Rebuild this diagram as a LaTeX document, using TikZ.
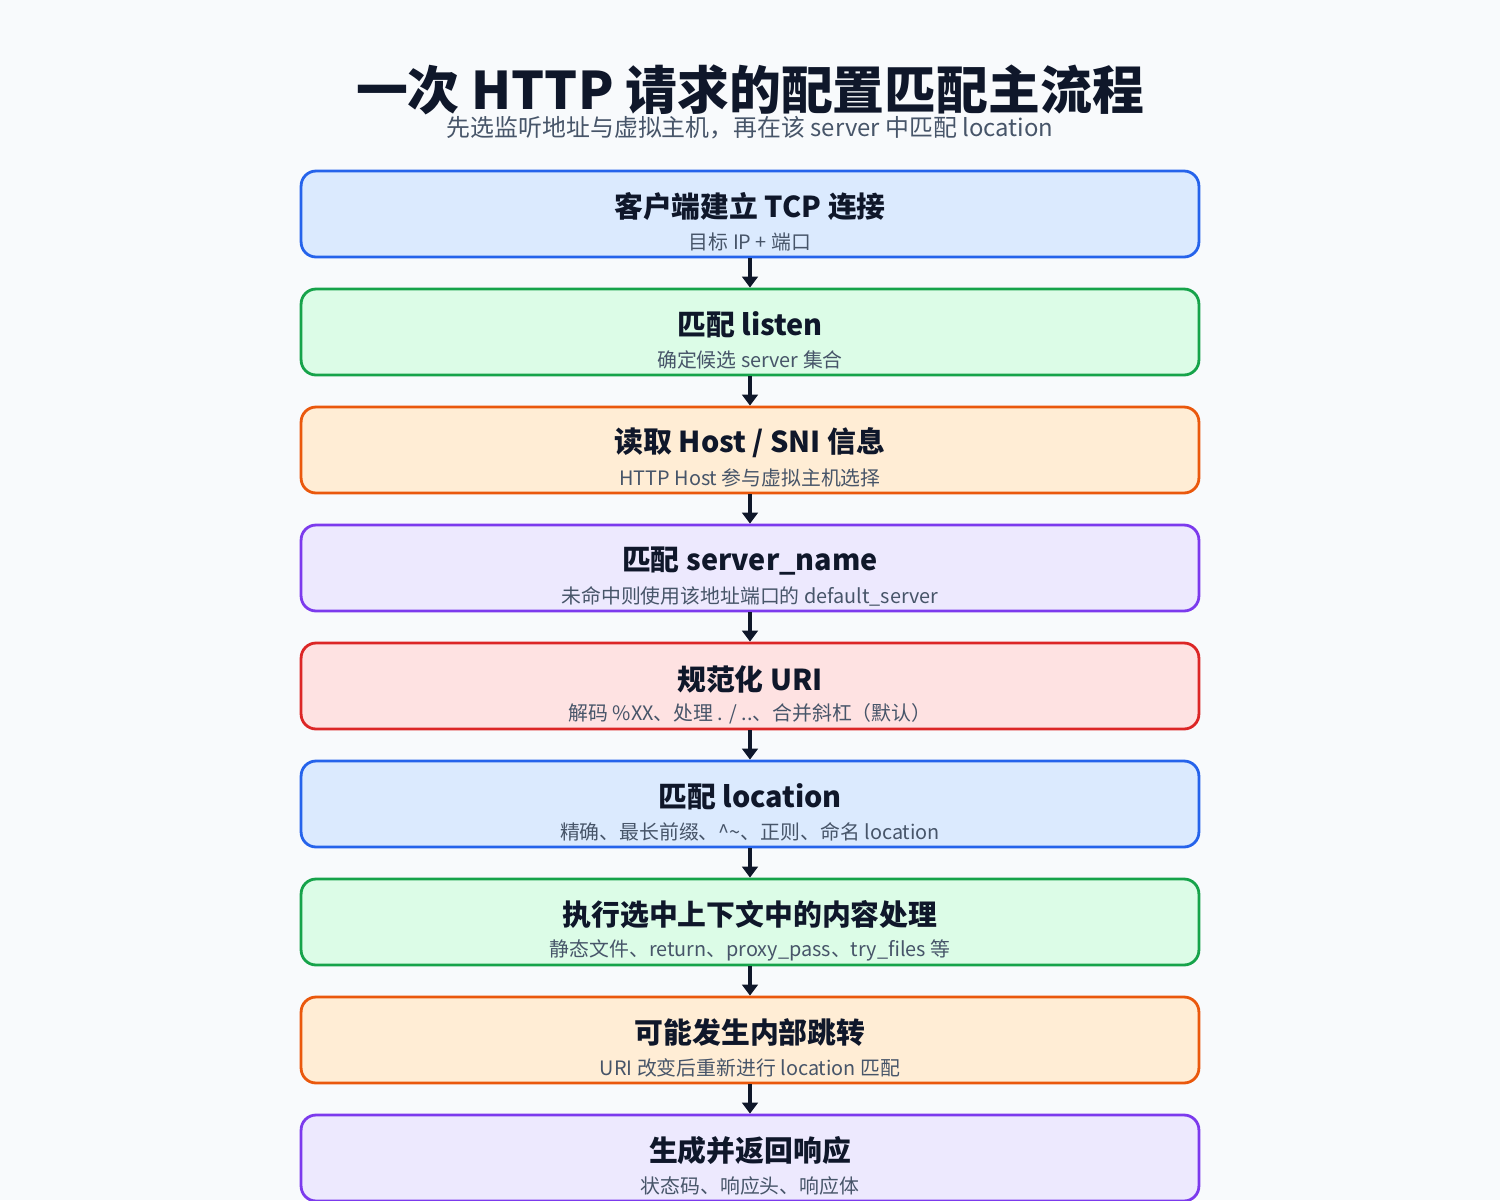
\documentclass[tikz,border=0pt]{standalone}
\usepackage{fontspec}
\setmainfont{Noto Sans CJK SC}
\usetikzlibrary{arrows.meta}
\definecolor{pagebg}{HTML}{F8FAFC}
\definecolor{ink}{HTML}{0F172A}
\definecolor{muted}{HTML}{475569}
\definecolor{blueline}{HTML}{2563EB}
\definecolor{bluefill}{HTML}{DBEAFE}
\definecolor{greenline}{HTML}{16A34A}
\definecolor{greenfill}{HTML}{DCFCE7}
\definecolor{orangeline}{HTML}{EA580C}
\definecolor{orangefill}{HTML}{FFEDD5}
\definecolor{purpleline}{HTML}{7C3AED}
\definecolor{purplefill}{HTML}{EDE9FE}
\definecolor{redline}{HTML}{DC2626}
\definecolor{redfill}{HTML}{FEE2E2}
\tikzset{
  stepbox/.style={draw=#1line, fill=#1fill, line width=1.6pt, rounded corners=8.5pt,
    minimum width=17.96cm, minimum height=1.72cm, inner sep=0pt},
  steptitle/.style={font=\bfseries\fontsize{16.4}{19}\selectfont, text=ink, inner sep=0pt},
  stepnote/.style={font=\fontsize{11.3}{13}\selectfont, text=muted, inner sep=0pt},
  flow/.style={-{Triangle[length=6.2pt,width=8.8pt]}, line width=1.8pt, draw=ink}
}

\begin{document}
\begin{tikzpicture}[x=0.02cm, y=-0.02cm]
\fill[pagebg] (0,0) rectangle (1500,1200);
\useasboundingbox (0,0) rectangle (1500,1200);
% heading
\node[font=\bfseries\fontsize{29.5}{34}\selectfont, text=ink, inner sep=0pt] (title) at (750,90) {一次 HTTP 请求的配置匹配主流程};
\node[font=\fontsize{13.6}{16}\selectfont, text=muted, inner sep=0pt] (subtitle) at (750,127.5) {先选监听地址与虚拟主机，再在该 server 中匹配 location};
% steps
\node[stepbox=blue] (s1) at (750,214) {};
\node[steptitle] (s1t) at (750,207) {客户端建立 TCP 连接};
\node[stepnote] (s1n) at (750,242) {目标 IP + 端口};
\node[stepbox=green] (s2) at (750,332) {};
\node[steptitle] (s2t) at (750,325) {匹配 listen};
\node[stepnote] (s2n) at (750,360) {确定候选 server 集合};
\node[stepbox=orange] (s3) at (750,450) {};
\node[steptitle] (s3t) at (750,443) {读取 Host / SNI 信息};
\node[stepnote] (s3n) at (750,478) {HTTP Host 参与虚拟主机选择};
\node[stepbox=purple] (s4) at (750,568) {};
\node[steptitle] (s4t) at (750,561) {匹配 server\_name};
\node[stepnote] (s4n) at (750,596) {未命中则使用该地址端口的 default\_server};
\node[stepbox=red] (s5) at (750,686) {};
\node[steptitle] (s5t) at (750,679) {规范化 URI};
\node[stepnote] (s5n) at (750,714) {解码 \%XX、处理 . / ..、合并斜杠（默认）};
\node[stepbox=blue] (s6) at (750,804) {};
\node[steptitle] (s6t) at (750,797) {匹配 location};
\node[stepnote] (s6n) at (750,832) {精确、最长前缀、\textasciicircum\textasciitilde、正则、命名 location};
\node[stepbox=green] (s7) at (750,922) {};
\node[steptitle] (s7t) at (750,915) {执行选中上下文中的内容处理};
\node[stepnote] (s7n) at (750,950) {静态文件、return、proxy\_pass、try\_files 等};
\node[stepbox=orange] (s8) at (750,1040) {};
\node[steptitle] (s8t) at (750,1033) {可能发生内部跳转};
\node[stepnote] (s8n) at (750,1068) {URI 改变后重新进行 location 匹配};
\node[stepbox=purple] (s9) at (750,1158) {};
\node[steptitle] (s9t) at (750,1151) {生成并返回响应};
\node[stepnote] (s9n) at (750,1186) {状态码、响应头、响应体};
% arrows
\draw[flow] (s1.south) -- (s2.north);
\draw[flow] (s2.south) -- (s3.north);
\draw[flow] (s3.south) -- (s4.north);
\draw[flow] (s4.south) -- (s5.north);
\draw[flow] (s5.south) -- (s6.north);
\draw[flow] (s6.south) -- (s7.north);
\draw[flow] (s7.south) -- (s8.north);
\draw[flow] (s8.south) -- (s9.north);
\end{tikzpicture}
\end{document}
